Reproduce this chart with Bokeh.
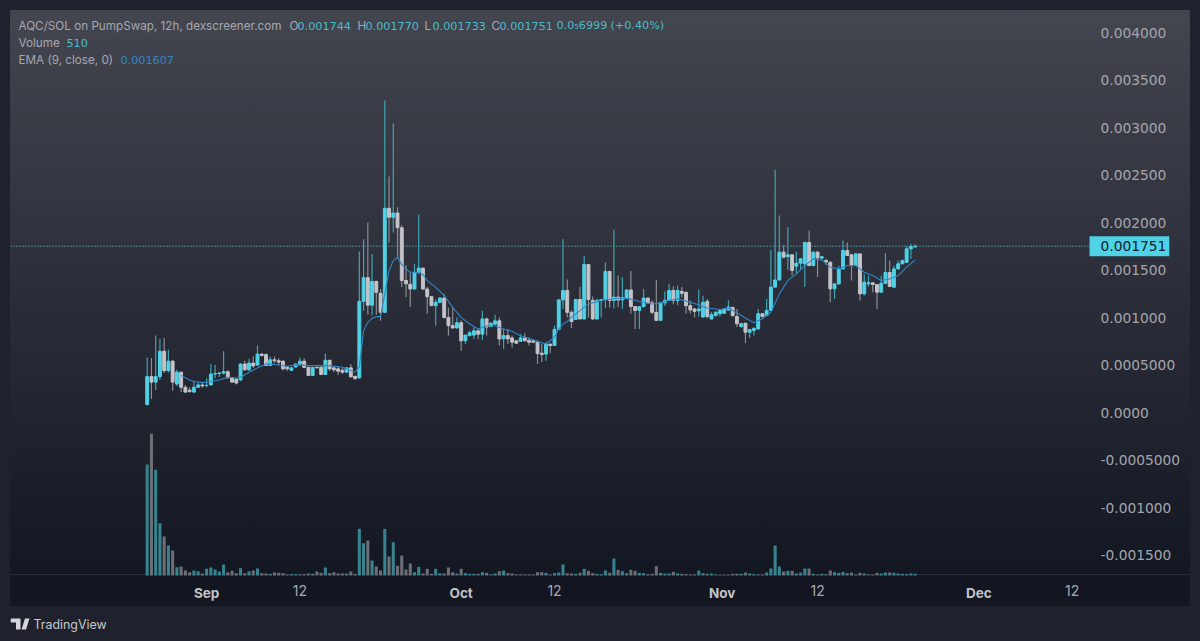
from bokeh.embed import file_html
from bokeh.resources import INLINE
from bokeh.plotting import figure
from bokeh.models import (ColumnDataSource, Range1d, LinearAxis, FixedTicker, Label,
                          PolyAnnotation, BoxAnnotation)

# prices in millionths of SOL, one candle per 12h
opens = [
85,378,320,378,645,440,540,300,425,265,
235,215,265,290,285,290,405,410,415,430,
365,350,345,510,450,520,500,615,610,495,
555,545,540,480,445,480,510,540,475,390,
475,475,400,550,470,460,445,425,470,380,
365,1170,1420,1130,1380,1255,1055,2150,2055,2100,
1945,1390,1350,1300,1470,1520,1300,1220,1125,1160,
1205,1000,915,890,945,755,810,815,860,825,
985,905,930,965,775,810,785,755,750,785,
760,755,740,625,615,720,705,875,1185,1285,
1055,980,1190,985,1558,1180,985,1180,1190,1485,
1180,1215,1185,1205,1290,1115,1075,1115,1205,1155,
1055,970,1155,1180,1285,1180,1275,1265,1125,1090,
1070,1005,1170,985,1020,1040,1045,1080,1105,1010,
905,940,845,865,880,1040,1020,1075,1320,1395,
1688,1640,1660,1540,1572,1565,1790,1547,1688,1625,
1600,1582,1302,1354,1512,1705,1660,1547,1670,1249,
1355,1365,1347,1267,1361,1474,1319,1512,1565,1582,
1723,1744]
closes = [
378,320,378,645,440,540,320,425,265,215,
220,265,290,280,285,405,410,415,430,365,
320,310,510,450,520,490,615,600,495,555,
545,530,460,460,470,510,540,475,390,475,
470,400,550,460,450,435,425,470,375,355,
1170,1420,1130,1380,1265,1055,2150,2055,2100,1945,
1390,1355,1300,1475,1520,1300,1220,1125,1160,1205,
1000,915,890,945,755,815,840,860,825,985,
900,940,965,775,810,775,740,730,785,755,
740,740,620,610,720,705,875,1185,1285,1055,
958,1190,985,1558,1190,985,1180,1190,1485,1180,
1215,1185,1210,1290,1115,1075,1115,1205,1155,1055,
970,1155,1180,1285,1180,1285,1255,1125,1080,1065,
1090,1160,1010,1030,1055,1075,1090,1110,1021,935,
935,845,873,885,1040,1010,1075,1320,1395,1688,
1635,1660,1495,1572,1618,1790,1547,1688,1628,1640,
1585,1302,1354,1512,1705,1653,1547,1670,1249,1372,
1365,1347,1267,1361,1474,1326,1512,1565,1600,1723,
1747,1751]
highs = [
580,575,810,775,785,660,555,450,430,290,
265,335,315,325,360,510,500,430,645,445,
370,360,520,545,565,590,705,620,620,590,
590,570,555,490,480,520,580,570,480,480,
490,490,620,555,480,480,470,480,510,390,
1695,1825,2000,1670,1390,1300,3285,2485,3045,2160,
1975,1550,1480,1565,2085,1525,1320,1225,1190,1215,
1250,1105,1105,1000,970,820,860,895,890,1070,
1000,950,1030,1000,880,880,810,760,825,835,
790,760,760,720,740,725,915,1190,1825,1400,
1075,1195,1325,1650,1560,1220,1200,1195,1580,1490,
1925,1440,1425,1295,1490,1120,1120,1300,1210,1180,
1395,1160,1275,1355,1330,1335,1320,1270,1180,1100,
1295,1230,1195,1060,1065,1085,1100,1180,1115,1091,
945,945,880,900,1090,1045,1195,1712,2555,2075,
1760,1950,1665,1690,1625,1800,1915,1695,1700,1650,
1620,1590,1360,1545,1810,1790,1665,1680,1675,1455,
1440,1370,1350,1440,1680,1600,1545,1600,1610,1750,
1775,1770]
lows = [
70,143,238,345,415,420,230,280,215,205,
210,205,265,260,265,290,360,375,400,355,
310,295,330,440,440,470,490,590,490,490,
520,500,445,440,435,470,505,465,385,385,
465,395,395,440,425,395,405,415,370,350,
355,1070,1035,1020,1030,965,1050,1790,1895,1635,
1320,1215,1110,1295,1465,1295,1040,1120,915,1150,
990,810,885,885,650,720,800,775,770,765,
810,900,925,705,670,720,685,720,745,750,
705,735,510,530,545,625,700,870,1090,1000,
890,975,980,980,1000,975,975,1000,1100,1105,
1095,1110,1090,1200,1040,880,880,1105,1150,1035,
965,965,1120,1175,1140,1130,1210,1040,1040,1000,
1010,1000,990,980,1010,1010,1040,1070,1005,900,
890,730,785,810,875,1000,1015,1070,1315,1390,
1625,1500,1440,1460,1500,1320,1540,1540,1425,1610,
1555,1160,1195,1350,1505,1650,1390,1540,1180,1230,
1325,1265,1090,1260,1355,1320,1315,1505,1560,1575,
1620,1733]
volumes = [
33300,42500,31700,15700,11700,9000,7500,2500,2700,1500,
1000,1500,1300,600,2000,2400,1800,1200,3300,1000,
1400,700,2200,700,1300,1500,2100,700,600,500,
900,800,700,300,400,400,300,400,600,500,
1200,800,2400,700,1000,600,600,600,1200,500,
14000,9700,10500,4500,2700,1500,14000,5700,10000,2900,
6000,1800,3600,1000,2600,600,2000,500,2000,700,
600,2400,1000,600,2000,700,500,500,500,1000,
800,300,600,1300,1500,700,600,300,300,300,
300,300,1000,1000,800,300,700,900,3300,700,
600,500,800,2000,1400,700,500,400,1500,800,
5100,1700,1300,700,1700,1400,800,700,400,500,
2800,800,600,600,1100,600,500,400,300,300,
1500,700,500,600,300,200,200,200,500,500,
500,900,600,400,300,300,900,2100,9000,2700,
1200,1400,1400,600,900,2100,2100,500,300,500,
400,1500,1000,800,1100,700,900,300,800,600,
300,300,800,600,900,900,800,600,500,400,
600,510]
ema_index = [8,10,11,13,15,17,19,21,22,24,26,28,30,33,35,38,40,43,46,49,50,51,52,53,54,55,56,
             57,58,59,60,61,62,63,64,65,66,68,70,72,74,76,78,80,82,84,86,88,90,92,94,96,97,98,99,
             100,102,104,107,109,111,114,116,119,121,123,125,128,130,132,135,137,
             140,142,143,145,147,149,151,153,155,157,159,161,163,165,167,169,171,173,175,177,179,181]
ema_values = [389,343,326,315,326,343,371,364,371,424,470,512,505,487,501,494,494,494,477,424,480,862,949,991,1009,1009,1248,
              1493,1599,1634,1557,1511,1476,1476,1476,1451,1388,1318,1230,1107,1002,932,879,914,914,879,855,809,781,749,721,792,879,932,957,
              1003,1073,1143,1179,1193,1203,1196,1168,1143,1154,1179,1196,1161,1133,1101,1084,1101,
              1021,968,944,986,1056,1249,1389,1460,1547,1617,1607,1530,1512,1547,1547,1477,1442,1389,1407,1442,1530,1607]
last_price = 1751
price_ticks = [4000,3500,3000,2500,2000,1500,1000,500,0,-500,-1000,-1500]
price_labels = ["0.004000","0.003500","0.003000","0.002500","0.002000","0.001500","0.001000",
                "0.0005000","0.0000","-0.0005000","-0.001000","-0.001500"]
month_ticks = [14,74,135.5,196]
month_labels = ["Sep","Oct","Nov","Dec"]
day_ticks = [36,96,158,218]
day_labels = ["12","12","12","12"]

W, H = 1200, 641
FONT = "Inter"
NUMFONT = "DejaVu Sans"
UP, DOWN = "#4fd2e6", "#c3c4c9"
UPW, DOWNW = "#3fa3b4", "#8b8c93"
UPV, DOWNV = "#37838f", "#6d6f76"
TXT = "#a6a8af"
CYAN = "#4bbccb"
BLUE = "#2f86c9"

index = list(range(len(opens)))
is_up = [c >= o for o, c in zip(opens, closes)]
src = ColumnDataSource(dict(
    i=index, o=opens, c=closes, h=highs, l=lows, v=volumes,
    body=[UP if u else DOWN for u in is_up],
    wick=[UPW if u else DOWNW for u in is_up],
    vol=[UPV if u else DOWNV for u in is_up],
))

panel = ("linear-gradient(#2a2d38,#2a2d38) 10px 574px/1180px 1px no-repeat,"
         "linear-gradient(#131620,#131620) 10px 575px/1180px 31px no-repeat,"
         "linear-gradient(#43454f,#131722) 10px 10px/1180px 565px no-repeat,"
         "#1f222d")

AXIS_BASE = -1716  # price at the line between volume pane and time axis
p = figure(width=W, height=H, output_backend="svg", toolbar_location=None,
           x_range=Range1d(-32.22, 245.9), y_range=Range1d(-2410.5, 4232),
           y_axis_location="right", min_border_left=10, min_border_right=10,
           min_border_top=10, min_border_bottom=0, title=None,
           background_fill_alpha=0, border_fill_alpha=0, outline_line_alpha=0,
           styles={"background": panel})
p.grid.visible = False
p.extra_y_ranges = {"vol": Range1d(-19800, 169500)}

def style_axis(ax, font, size, weight="normal", color=TXT):
    ax.axis_line_alpha = 0
    ax.major_tick_line_alpha = 0
    ax.minor_tick_line_alpha = 0
    ax.major_tick_out = 0
    ax.major_tick_in = 0
    ax.minor_tick_out = 0
    ax.minor_tick_in = 0
    ax.major_label_text_font = font
    ax.major_label_text_font_size = size
    ax.major_label_text_font_style = weight
    ax.major_label_text_color = color

yax = p.yaxis[0]
yax.fixed_location = 224.7
yax.ticker = FixedTicker(ticks=price_ticks)
yax.major_label_overrides = dict(zip(price_ticks, price_labels))
yax.major_label_standoff = 0
style_axis(yax, NUMFONT, "13.8px", color="#a3a5ac")

xax = p.xaxis[0]
xax.fixed_location = AXIS_BASE
xax.ticker = FixedTicker(ticks=month_ticks)
xax.major_label_overrides = dict(zip(month_ticks, month_labels))
xax.major_label_standoff = 9
style_axis(xax, FONT, "13.5px", "bold", "#c2c3c9")

xax2 = LinearAxis(fixed_location=AXIS_BASE, ticker=FixedTicker(ticks=day_ticks),
                  major_label_overrides=dict(zip(day_ticks, day_labels)), major_label_standoff=9)
style_axis(xax2, FONT, "14px", "normal", "#a6a8af")
p.add_layout(xax2, "below")

# volume
p.vbar(x="i", top="v", bottom=0, width=0.72, source=src, fill_color="vol", line_alpha=0, y_range_name="vol")
# price line
pl = p.segment(x0=[-32.22], x1=[222], y0=[last_price], y1=[last_price], line_color="#63d6e6", line_width=1)
pl.glyph.line_dash = [1, 2]
# wicks and bodies
p.segment(x0="i", x1="i", y0="l", y1="h", source=src, line_color="wick", line_width=1.2)
p.vbar(x="i", top="o", bottom="c", width=0.68, source=src, fill_color="body", line_color="body", line_width=1)
# EMA
p.line(ema_index, ema_values, line_color=BLUE, line_width=1.1)

FX, FB = 10, 641  # frame left and bottom, the origin of screen-unit annotations
def text(x, ypx, s, color=TXT, size="11.7px", font=FONT):
    p.add_layout(Label(x=x-FX, y=FB-ypx, x_units="screen", y_units="screen", text=s,
                       text_color=color, text_font=font, text_font_size=size,
                       text_baseline="middle"))

text(18, 25, "AQC/SOL on PumpSwap, 12h, dexscreener.com")
for x, s in [(289, "O"), (357, "H"), (424, "L"), (491, "C")]:
    text(x, 25, s)
for x, s in [(297, "0.001744"), (365, "0.001770"), (432, "0.001733"), (499, "0.001751"),
             (556, "0.0\u20856999"), (610, "(+0.40%)")]:
    text(x, 25, s, CYAN, "11.2px", NUMFONT)
text(18, 42, "Volume")
text(66, 42, "510", CYAN, "11.2px", NUMFONT)
text(18, 59, "EMA (9, close, 0)")
text(120, 59, "0.001607", BLUE, "11.2px", NUMFONT)

# last-price tag
p.add_layout(BoxAnnotation(left=222.1, right=240.9, top=1855, bottom=1645, fill_color=UP, fill_alpha=1, line_alpha=0))
p.add_layout(Label(x=224.7, y=last_price, text="0.001751", text_color="#10202a", text_font=NUMFONT,
                   text_font_size="13.8px", text_align="left", text_baseline="middle"))

# footer
text(33, 624, "TradingView", "#c6c8ce", "12.4px")
def poly(pts):
    p.add_layout(PolyAnnotation(xs=[a-FX for a, b in pts], ys=[FB-b for a, b in pts],
                                xs_units="screen", ys_units="screen",
                                fill_color="#d4d6dc", fill_alpha=1, line_alpha=0))
poly([(10, 618), (20, 618), (20, 629), (15.5, 629), (15.5, 622), (10, 622)])
poly([(21, 629), (25.5, 629), (29, 618), (24.5, 618)])

html = file_html(p, INLINE)
html = html.replace("<head>", "<head><style>html,body{background:#1f222d;overflow:hidden}</style>", 1)
open("out.html", "w").write(html)
